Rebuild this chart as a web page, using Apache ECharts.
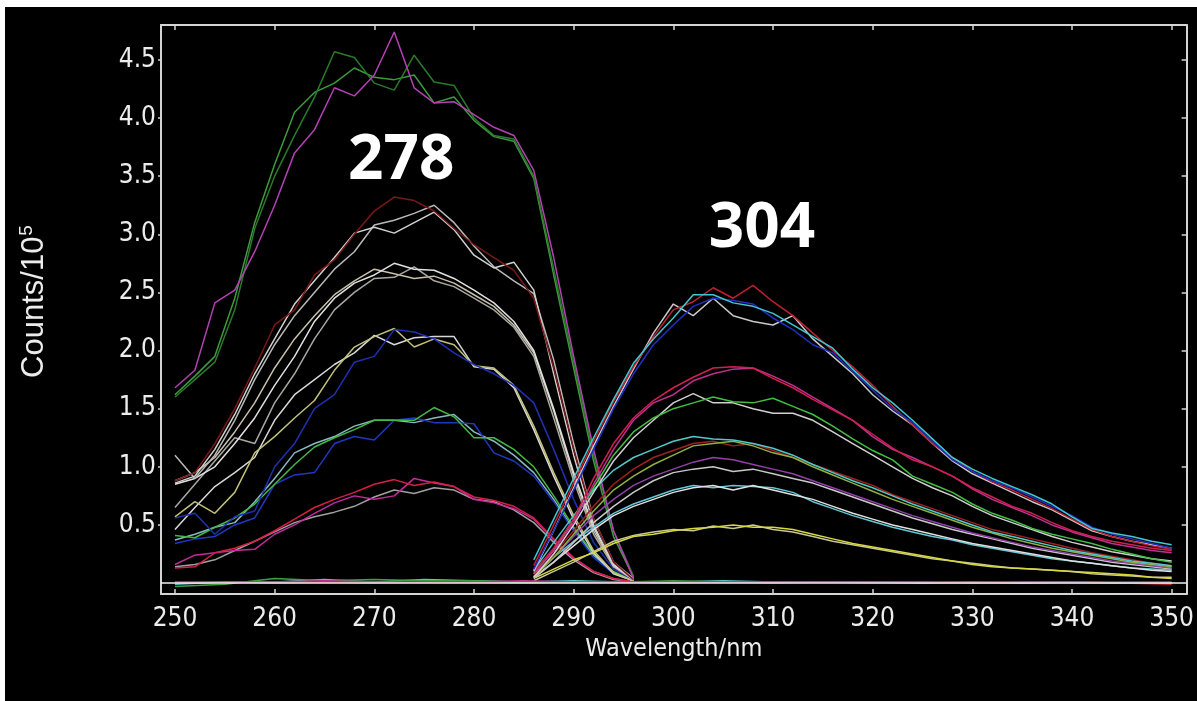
<!DOCTYPE html>
<html>
<head>
<meta charset="utf-8">
<script src="https://cdn.jsdelivr.net/npm/echarts@6/dist/echarts.min.js"></script>
<style>
  html, body { margin: 0; padding: 0; background: #fff; }
  #chart { position: absolute; left: 5px; top: 7px; width: 1192px; height: 694px; background: #000; }
</style>
</head>
<body>
<div id="chart"></div>
<script>
// wavelength grids (nm)
const exWl = [250,252,254,256,258,260,262,264,266,268,270,272,274,276,278,280,282,284,286,288,290,292,294,296];
const emWl = [286,288,290,292,294,296,298,300,302,304,306,308,310,312,314,316,318,320,322,324,326,328,330,332,334,336,338,340,342,344,346,348,350];
const baseWl = [250,255,260,265,270,275,280,285,290,295,300,305,310,315,320,325,330,335,340,345,350];

const xTicks = [250,260,270,280,290,300,310,320,330,340,350];
const yTicks = [0.5,1.0,1.5,2.0,2.5,3.0,3.5,4.0,4.5];

// excitation spectra (counts / 1e5), left band ~278 nm
const ex1 = [1.60,1.75,1.90,2.35,3.05,3.50,3.85,4.18,4.57,4.52,4.30,4.24,4.54,4.31,4.28,4.00,3.85,3.82,3.50,2.70,1.90,1.10,0.45,0.06];
const ex2 = [1.68,1.83,2.41,2.52,2.85,3.25,3.70,3.90,4.26,4.19,4.37,4.74,4.26,4.13,4.14,4.03,3.92,3.85,3.55,2.80,1.95,1.15,0.45,0.04];
const ex3 = [1.62,1.78,1.95,2.45,3.10,3.60,4.05,4.22,4.30,4.43,4.35,4.33,4.37,4.13,4.18,3.98,3.84,3.80,3.48,2.65,1.85,1.05,0.40,0.05];
const ex4 = [0.88,0.95,1.20,1.50,1.85,2.22,2.35,2.65,2.78,3.00,3.20,3.32,3.29,3.20,3.05,2.91,2.80,2.69,2.45,1.85,1.15,0.55,0.18,0.03];
const ex5 = [0.86,0.92,1.15,1.45,1.80,2.10,2.40,2.60,2.80,3.01,3.06,3.01,3.10,3.19,3.04,2.82,2.71,2.76,2.52,1.80,1.10,0.50,0.15,0.03];
const ex6 = [1.10,0.90,1.10,1.40,1.75,2.05,2.30,2.50,2.70,2.85,3.08,3.12,3.18,3.25,3.10,2.90,2.72,2.60,2.49,1.92,1.20,0.55,0.18,0.04];
const ex7 = [0.85,0.90,1.00,1.20,1.42,1.70,1.95,2.25,2.45,2.58,2.65,2.75,2.70,2.69,2.62,2.52,2.41,2.25,2.00,1.50,0.95,0.48,0.16,0.04];
const ex8 = [0.65,0.85,1.05,1.25,1.20,1.55,1.80,2.10,2.35,2.50,2.62,2.63,2.72,2.60,2.55,2.45,2.35,2.20,1.95,1.42,0.88,0.42,0.14,0.03];
const ex9 = [0.88,0.95,1.08,1.30,1.55,1.85,2.10,2.30,2.48,2.60,2.70,2.66,2.62,2.64,2.58,2.48,2.38,2.22,1.98,1.48,0.92,0.45,0.15,0.04];
const ex10 = [0.56,0.60,0.42,0.57,0.62,1.00,1.20,1.50,1.62,1.90,1.95,2.18,2.16,2.10,1.98,1.88,1.80,1.70,1.55,1.15,0.72,0.35,0.12,0.03];
const ex11 = [0.57,0.70,0.60,0.78,1.12,1.26,1.42,1.57,1.83,2.03,2.12,2.19,2.03,2.10,2.05,1.87,1.85,1.70,1.35,0.95,0.58,0.28,0.09,0.02];
const ex12 = [0.46,0.65,0.83,0.95,1.08,1.40,1.62,1.75,1.88,1.98,2.13,2.05,2.11,2.12,2.12,1.86,1.84,1.68,1.32,0.92,0.55,0.26,0.08,0.02];
const ex13 = [0.41,0.39,0.48,0.56,0.68,0.85,1.02,1.17,1.25,1.32,1.40,1.40,1.40,1.51,1.43,1.25,1.25,1.15,1.00,0.75,0.48,0.25,0.10,0.02];
const ex14 = [0.34,0.38,0.40,0.50,0.56,0.85,0.93,0.95,1.20,1.26,1.23,1.40,1.42,1.38,1.38,1.37,1.12,1.05,0.92,0.70,0.45,0.22,0.08,0.02];
const ex15 = [0.37,0.42,0.48,0.52,0.70,0.90,1.12,1.20,1.26,1.35,1.40,1.40,1.38,1.42,1.45,1.30,1.22,1.10,0.95,0.72,0.46,0.24,0.09,0.02];
const ex16 = [0.13,0.14,0.26,0.30,0.36,0.45,0.55,0.65,0.72,0.78,0.85,0.89,0.84,0.87,0.83,0.74,0.71,0.66,0.56,0.38,0.22,0.10,0.04,0.01];
const ex17 = [0.16,0.24,0.26,0.28,0.29,0.42,0.50,0.60,0.69,0.75,0.72,0.75,0.90,0.86,0.83,0.72,0.69,0.64,0.55,0.37,0.21,0.10,0.04,0.01];
const ex18 = [0.14,0.16,0.20,0.28,0.36,0.44,0.52,0.57,0.61,0.66,0.74,0.80,0.77,0.82,0.80,0.72,0.70,0.63,0.52,0.35,0.20,0.09,0.03,0.01];

// emission spectra (counts / 1e5), right band ~304 nm
const em1 = [0.20,0.55,0.90,1.25,1.58,1.89,2.10,2.28,2.48,2.48,2.41,2.38,2.32,2.22,2.12,2.02,1.84,1.68,1.55,1.40,1.24,1.08,0.98,0.90,0.83,0.76,0.68,0.57,0.47,0.43,0.40,0.36,0.33];
const em2 = [0.12,0.45,0.80,1.15,1.50,1.80,2.05,2.22,2.38,2.45,2.43,2.40,2.28,2.18,2.05,1.98,1.82,1.66,1.50,1.38,1.22,1.06,0.96,0.88,0.82,0.74,0.66,0.58,0.48,0.42,0.38,0.34,0.30];
const em3 = [0.15,0.50,0.86,1.22,1.56,1.86,2.12,2.35,2.42,2.54,2.45,2.56,2.42,2.30,2.15,2.00,1.86,1.70,1.52,1.36,1.20,1.08,0.96,0.87,0.80,0.72,0.64,0.55,0.46,0.40,0.36,0.32,0.29];
const em4 = [0.10,0.45,0.82,1.18,1.52,1.84,2.15,2.40,2.30,2.45,2.30,2.25,2.22,2.30,2.10,1.95,1.80,1.62,1.48,1.36,1.20,1.05,0.94,0.86,0.78,0.70,0.63,0.54,0.45,0.40,0.36,0.33,0.30];
const em5 = [0.10,0.30,0.55,0.90,1.20,1.42,1.57,1.68,1.77,1.85,1.86,1.85,1.76,1.68,1.58,1.49,1.40,1.28,1.16,1.06,1.00,0.92,0.82,0.74,0.66,0.60,0.52,0.45,0.40,0.36,0.33,0.30,0.28];
const em6 = [0.08,0.28,0.52,0.85,1.15,1.40,1.55,1.62,1.74,1.80,1.84,1.85,1.78,1.70,1.60,1.50,1.40,1.26,1.15,1.08,1.00,0.92,0.81,0.72,0.65,0.58,0.50,0.44,0.39,0.34,0.31,0.28,0.26];
const em7 = [0.08,0.28,0.55,0.82,1.10,1.30,1.42,1.50,1.55,1.60,1.56,1.55,1.59,1.52,1.45,1.35,1.24,1.14,1.06,0.92,0.85,0.78,0.68,0.60,0.54,0.47,0.42,0.38,0.34,0.29,0.25,0.21,0.18];
const em8 = [0.05,0.25,0.50,0.78,1.05,1.25,1.40,1.55,1.63,1.55,1.55,1.50,1.46,1.46,1.40,1.30,1.20,1.10,1.00,0.90,0.82,0.75,0.66,0.58,0.52,0.46,0.40,0.35,0.31,0.27,0.24,0.21,0.19];
const em9 = [0.11,0.35,0.58,0.80,0.97,1.08,1.15,1.22,1.26,1.24,1.23,1.20,1.16,1.10,1.02,0.95,0.88,0.82,0.75,0.68,0.62,0.56,0.50,0.44,0.40,0.36,0.32,0.28,0.25,0.22,0.19,0.17,0.15];
const em10 = [0.05,0.22,0.42,0.62,0.80,0.92,1.02,1.10,1.18,1.20,1.22,1.18,1.12,1.08,1.00,0.93,0.86,0.79,0.72,0.66,0.60,0.54,0.48,0.43,0.38,0.34,0.30,0.27,0.24,0.21,0.18,0.16,0.14];
const em11 = [0.06,0.25,0.45,0.66,0.85,0.98,1.08,1.14,1.20,1.22,1.18,1.20,1.14,1.08,1.02,0.96,0.90,0.84,0.76,0.70,0.64,0.58,0.52,0.46,0.42,0.38,0.34,0.30,0.26,0.23,0.20,0.17,0.15];
const em12 = [0.06,0.22,0.40,0.58,0.72,0.84,0.92,0.98,1.04,1.08,1.06,1.02,0.98,0.94,0.88,0.82,0.76,0.70,0.64,0.58,0.53,0.48,0.43,0.39,0.35,0.31,0.28,0.25,0.22,0.19,0.17,0.15,0.13];
const em13 = [0.04,0.18,0.35,0.52,0.66,0.78,0.88,0.95,0.98,1.00,0.96,0.98,0.94,0.90,0.86,0.80,0.74,0.68,0.62,0.56,0.51,0.46,0.42,0.38,0.34,0.30,0.27,0.24,0.21,0.18,0.16,0.14,0.12];
const em14 = [0.05,0.18,0.32,0.46,0.58,0.66,0.72,0.78,0.82,0.84,0.80,0.84,0.80,0.76,0.72,0.66,0.60,0.55,0.50,0.46,0.42,0.38,0.34,0.31,0.28,0.25,0.22,0.19,0.17,0.15,0.13,0.11,0.10];
const em15 = [0.08,0.22,0.36,0.48,0.60,0.68,0.74,0.80,0.84,0.82,0.84,0.83,0.82,0.78,0.70,0.64,0.58,0.53,0.48,0.44,0.40,0.37,0.33,0.30,0.27,0.24,0.21,0.19,0.17,0.15,0.13,0.12,0.11];
const em16 = [0.04,0.12,0.20,0.26,0.34,0.40,0.42,0.45,0.47,0.48,0.50,0.48,0.48,0.46,0.42,0.38,0.34,0.31,0.28,0.25,0.22,0.19,0.16,0.14,0.13,0.12,0.11,0.10,0.09,0.08,0.07,0.05,0.04];
const em17 = [0.02,0.10,0.18,0.27,0.36,0.41,0.44,0.46,0.45,0.49,0.47,0.50,0.46,0.44,0.40,0.36,0.33,0.30,0.27,0.24,0.21,0.19,0.17,0.15,0.13,0.12,0.11,0.10,0.08,0.07,0.06,0.05,0.05];

// blank / scatter traces near zero
const base1 = [0.01,0.01,0.01,0.02,0.01,0.01,0.01,0.02,0.01,0.01,0.01,0.01,0.01,0.01,0.01,0.01,0.01,0.01,0.01,0.01,0.01];
const base2 = [-0.03,-0.01,0.04,0.02,0.03,0.02,0.02,0.01,0.01,0.01,0.02,0.01,0.01,0.01,0.01,0.01,0.00,0.01,0.01,0.00,0.00];
const base3 = [-0.01,0.01,0.01,0.03,0.01,0.03,0.02,0.01,0.02,0.01,0.01,0.02,0.01,0.01,0.01,0.00,0.01,0.00,0.01,0.00,0.00];
const base4 = [0.00,0.01,0.00,0.01,0.00,0.01,0.01,0.00,0.01,0.01,0.00,0.01,0.00,0.01,0.00,0.00,0.00,0.00,0.00,0.00,-0.01];

const peakNames = ['278', '304'];
const peakWl = [272.7, 308.9];
const peakLevel = [3.63, 3.04];

const traces = [
  [exWl, ex18, '#a0a0a0'], [exWl, ex17, '#c02c9c'], [exWl, ex16, '#d42044'],
  [exWl, ex15, '#8ab8c0'], [exWl, ex14, '#2038c0'], [exWl, ex13, '#44b844'],
  [exWl, ex12, '#d8d8d8'], [exWl, ex11, '#c0c078'], [exWl, ex10, '#2030b0'],
  [exWl, ex9, '#c8c0a8'], [exWl, ex8, '#a8a8a0'], [exWl, ex7, '#e0e0e0'],
  [exWl, ex6, '#b8b8b8'], [exWl, ex5, '#d0d0d0'], [exWl, ex4, '#7a1818'],
  [exWl, ex3, '#3c9c3c'], [exWl, ex1, '#2a7a2a'], [exWl, ex2, '#b440b4'],
  [emWl, em17, '#c8c890'], [emWl, em16, '#d8d840'], [emWl, em15, '#60c8d8'],
  [emWl, em14, '#e0e0e0'], [emWl, em13, '#c8c8c8'], [emWl, em12, '#9040a8'],
  [emWl, em11, '#a02020'], [emWl, em10, '#90b040'], [emWl, em9, '#50c8c8'],
  [emWl, em8, '#d0d0d0'], [emWl, em7, '#40c040'], [emWl, em6, '#c03090'],
  [emWl, em5, '#d02050'], [emWl, em4, '#c8c8c8'], [emWl, em3, '#c02030'],
  [emWl, em2, '#2030c0'], [emWl, em1, '#40c8d0'],
  [baseWl, base4, '#c02030'], [baseWl, base3, '#50c8c8'], [baseWl, base2, '#40a040'], [baseWl, base1, '#c03090']
];

const tickFont = '"Liberation Sans Narrow", "DejaVu Sans Condensed", "Liberation Sans", Arial, sans-serif';
const frame = '#d4d4d4';
const textCol = '#ececec';

const series = traces.map(([wl, vals, color]) => ({
  type: 'line',
  data: wl.map((w, i) => [w, vals[i]]),
  symbol: 'none',
  silent: true,
  lineStyle: { color, width: 1.5 },
  z: 2
}));

// zero line and the two peak labels
series.push({
  type: 'line',
  data: [],
  silent: true,
  markLine: {
    silent: true,
    symbol: 'none',
    label: { show: false },
    lineStyle: { color: '#f0f0f0', width: 1.5, type: 'solid' },
    data: [{ yAxis: 0 }]
  },
  markPoint: {
    symbol: 'rect',
    symbolSize: 1,
    itemStyle: { color: 'transparent' },
    label: {
      show: true,
      position: 'inside',
      formatter: '{b}',
      color: '#ffffff',
      fontFamily: '"Open Sans", "Liberation Sans", sans-serif',
      fontWeight: 'bold',
      fontSize: 62
    },
    data: peakNames.map((n, i) => ({ name: n, coord: [peakWl[i], peakLevel[i]] }))
  },
  z: 5
});

const chart = echarts.init(document.getElementById('chart'), null, { renderer: 'canvas' });
chart.setOption({
  backgroundColor: '#000',
  animation: false,
  grid: { left: 156, top: 18, right: 4, bottom: 107, containLabel: false },
  xAxis: [
    {
      type: 'value', min: 248.6, max: 351.5, position: 'bottom',
      axisLine: { show: true, onZero: false, lineStyle: { color: frame, width: 2 } },
      axisTick: { show: true, inside: true, length: 5, customValues: xTicks, lineStyle: { color: frame, width: 1.5 } },
      axisLabel: { customValues: xTicks, color: textCol, fontFamily: tickFont, fontSize: 26, margin: 12 },
      splitLine: { show: false },
      name: 'Wavelength/nm',
      nameLocation: 'middle',
      nameGap: 33,
      nameTextStyle: { color: textCol, fontFamily: tickFont, fontSize: 25 }
    },
    {
      type: 'value', min: 248.6, max: 351.5, position: 'top',
      axisLine: { show: true, onZero: false, lineStyle: { color: frame, width: 2 } },
      axisTick: { show: true, inside: true, length: 5, customValues: xTicks, lineStyle: { color: frame, width: 1.5 } },
      axisLabel: { show: false },
      splitLine: { show: false }
    }
  ],
  yAxis: [
    {
      type: 'value', min: -0.094, max: 4.8, position: 'left',
      axisLine: { show: true, onZero: false, lineStyle: { color: frame, width: 2 } },
      axisTick: { show: true, inside: false, length: 3, customValues: yTicks, lineStyle: { color: frame, width: 1.5 } },
      axisLabel: {
        customValues: yTicks, color: textCol, fontFamily: tickFont, fontSize: 26, margin: 5,
        formatter: (v) => v.toFixed(1)
      },
      splitLine: { show: false },
      name: '{b|Counts/10}{s|5}',
      nameLocation: 'middle',
      nameRotate: 90,
      nameGap: 110,
      nameTextStyle: {
        color: textCol,
        padding: [0, 0, 0, 16],
        rich: {
          b: { color: textCol, fontFamily: '"Liberation Sans", Arial, sans-serif', fontSize: 31 },
          s: { color: textCol, fontFamily: '"Liberation Sans", Arial, sans-serif', fontSize: 19, verticalAlign: 'top', padding: [0, 0, 15, 1] }
        }
      }
    },
    {
      type: 'value', min: -0.094, max: 4.8, position: 'right',
      axisLine: { show: true, onZero: false, lineStyle: { color: frame, width: 2 } },
      axisTick: { show: true, inside: true, length: 5, customValues: yTicks, lineStyle: { color: frame, width: 1.5 } },
      axisLabel: { show: false },
      splitLine: { show: false }
    }
  ],
  series
});
</script>
</body>
</html>
